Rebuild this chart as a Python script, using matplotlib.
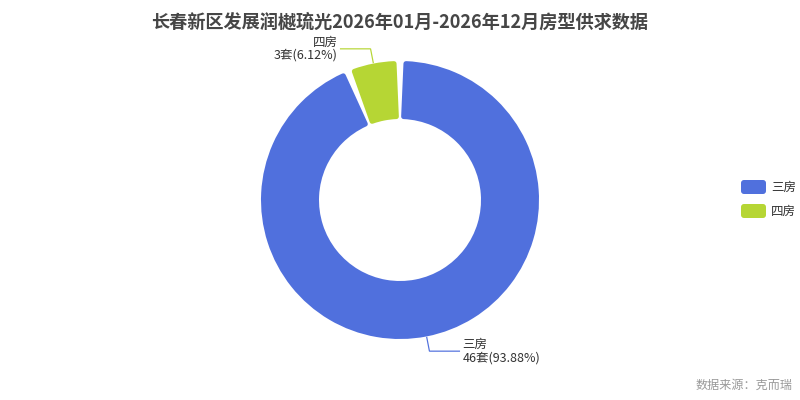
import numpy as np
import matplotlib
matplotlib.use("Agg")
import matplotlib.pyplot as plt
from matplotlib.patches import FancyBboxPatch

plt.rcParams['font.family'] = ['Noto Sans CJK SC', 'DejaVu Sans']

title = "长春新区发展润樾琉光2026年01月-2026年12月房型供求数据"
categories = ["三房", "四房"]
values = [46, 3]
colors = ["#5070dd", "#b6d634"]
source = "数据来源：克而瑞"

W, H = 800, 400
fig = plt.figure(figsize=(8, 4), dpi=100)
ax = fig.add_axes([0, 0, 1, 1])

cx, cy = 400, 200
r_out, r_in = 139, 81
edge = 2.5  # px rounding
px2pt = 72 / 100

wedges, _ = ax.pie(values, colors=colors, startangle=90, counterclock=False,
                   center=(cx, cy), radius=r_out - edge,
                   wedgeprops=dict(width=(r_out - r_in) - 2 * edge,
                                   linewidth=2 * edge * px2pt, joinstyle='round'))
ax.set_xlim(0, W)
ax.set_ylim(0, H)
ax.set_aspect('equal')
ax.axis('off')

r_mid = (r_out + r_in) / 2
gap = 2.3 + edge
dtheta = np.degrees(gap / r_mid)
for w, c in zip(wedges, colors):
    w.set_edgecolor(c)
    w.set_joinstyle('round')
    w.set_theta1(w.theta1 + dtheta)
    w.set_theta2(w.theta2 - dtheta)

total = sum(values)
# labels
for i, (w, cat, v, c) in enumerate(zip(wedges, categories, values, colors)):
    ang = np.radians((w.theta1 + w.theta2) / 2)
    x0 = cx + (r_out + 1) * np.cos(ang)
    y0 = cy + (r_out + 1) * np.sin(ang)
    x1 = cx + (r_out + 15) * np.cos(ang)
    y1 = cy + (r_out + 15) * np.sin(ang)
    side = 1 if np.cos(ang) >= 0 else -1
    x2 = x1 + side * 30
    ax.plot([x0, x1, x2], [y0, y1, y1], color=c, lw=1 * px2pt * 1.2, solid_joinstyle='miter')
    txt = f"{cat}\n{v}套({v / total * 100:.2f}%)"
    ax.text(x2 + side * 3, y1, txt, ha='left' if side > 0 else 'right', va='center',
            fontsize=9, color='#333333', linespacing=1.0,
            multialignment='left' if side > 0 else 'right')

ax.text(W / 2, H - 22, title, ha='center', va='center', fontsize=13.1,
        fontweight='bold', color='#464646')

# legend
for i, (cat, c) in enumerate(zip(categories, colors)):
    y = H - (187 + i * 24)
    ax.add_patch(FancyBboxPatch((741 + 3, y - 7 + 3), 25 - 6, 14 - 6,
                                boxstyle="round,pad=3", fc=c, ec='none'))
    ax.text(771, y, cat, ha='left', va='center', fontsize=9, color='#333333')

ax.text(793, H - 385, source, ha='right', va='center', fontsize=8.7, color='#999999')

fig.savefig("out.png", dpi=100)
